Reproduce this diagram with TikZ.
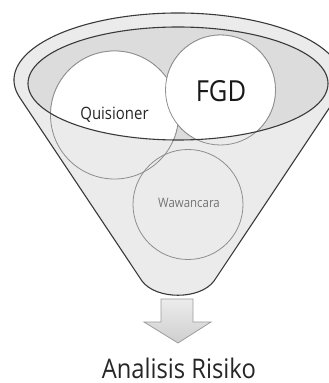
\documentclass[tikz,border=0pt]{standalone}
\usepackage{fontspec}
\newfontfamily\segoe[FakeStretch=0.88]{Open Sans}
\usepackage{tikz}
\usetikzlibrary{positioning}
\usepackage{xcolor}
\definecolor{funnelgray}{HTML}{EBEBEB}
\definecolor{mouthgray}{HTML}{DCDCDC}
\definecolor{rimgray}{HTML}{3A3A3A}
\definecolor{ringgray}{HTML}{8E8E8E}
\definecolor{arrowgray}{HTML}{9C9C9C}
\tikzstyle{rim}=[draw=rimgray,line width=1.1]
\tikzstyle{ring}=[draw=ringgray,line width=0.8]
\tikzstyle{lbl}=[inner sep=0,anchor=base]

\begin{document}
\begin{tikzpicture}[x=1pt,y=1pt]
\useasboundingbox (0,0) rectangle (329,383);
\clip (0,0) rectangle (329,383);

\coordinate (top) at (178,303);
\coordinate (mouth) at (178,299.5);
\coordinate (quis) at (114.5,268);
\coordinate (fgd) at (220.5,293);
\coordinate (waw) at (188,178.5);

% funnel
\path[fill=funnelgray,rim] (top) ++(195.5:164 and 67)
  arc[start angle=195.5,end angle=-15.5,x radius=164,y radius=67]
  -- (214,102) .. controls (200,83) and (156,83) .. (142,102) -- cycle;
\fill[mouthgray] (mouth) ellipse[x radius=150,y radius=56.5];

\draw[ring] (quis) circle[radius=64];
\draw[ring] (fgd) circle[radius=55];
\draw[ring] (waw) circle[radius=55];
\begin{scope}
  \clip (mouth) ellipse[x radius=150,y radius=56.5];
  \filldraw[ring,fill=white] (quis) circle[radius=64];
  \filldraw[ring,fill=white] (fgd) circle[radius=55];
\end{scope}
\draw[rim] (mouth) ellipse[x radius=150,y radius=56.5];

% arrow
\path[draw=arrowgray,line width=0.8,top color=gray!15,bottom color=gray!38]
  (161,84) -- (193,84) -- (193,61) -- (211,61) -- (178,40) -- (144,61) -- (161,61) -- cycle;

\node[lbl,font=\segoe\fontsize{17}{20}\selectfont,text=black!85] (quistext) at (114.5,263) {Quisioner};
\node[lbl,font=\segoe\fontsize{29}{34}\selectfont,text=black!90] (fgdtext) at (221,281) {FGD};
\node[lbl,font=\segoe\fontsize{13}{16}\selectfont,text=black!55] (wawtext) at (189,175) {Wawancara};
\node[lbl,font=\segoe\fontsize{27}{32}\selectfont,text=black!85] (result) at (178.8,5) {Analisis Risiko};
\end{tikzpicture}
\end{document}
